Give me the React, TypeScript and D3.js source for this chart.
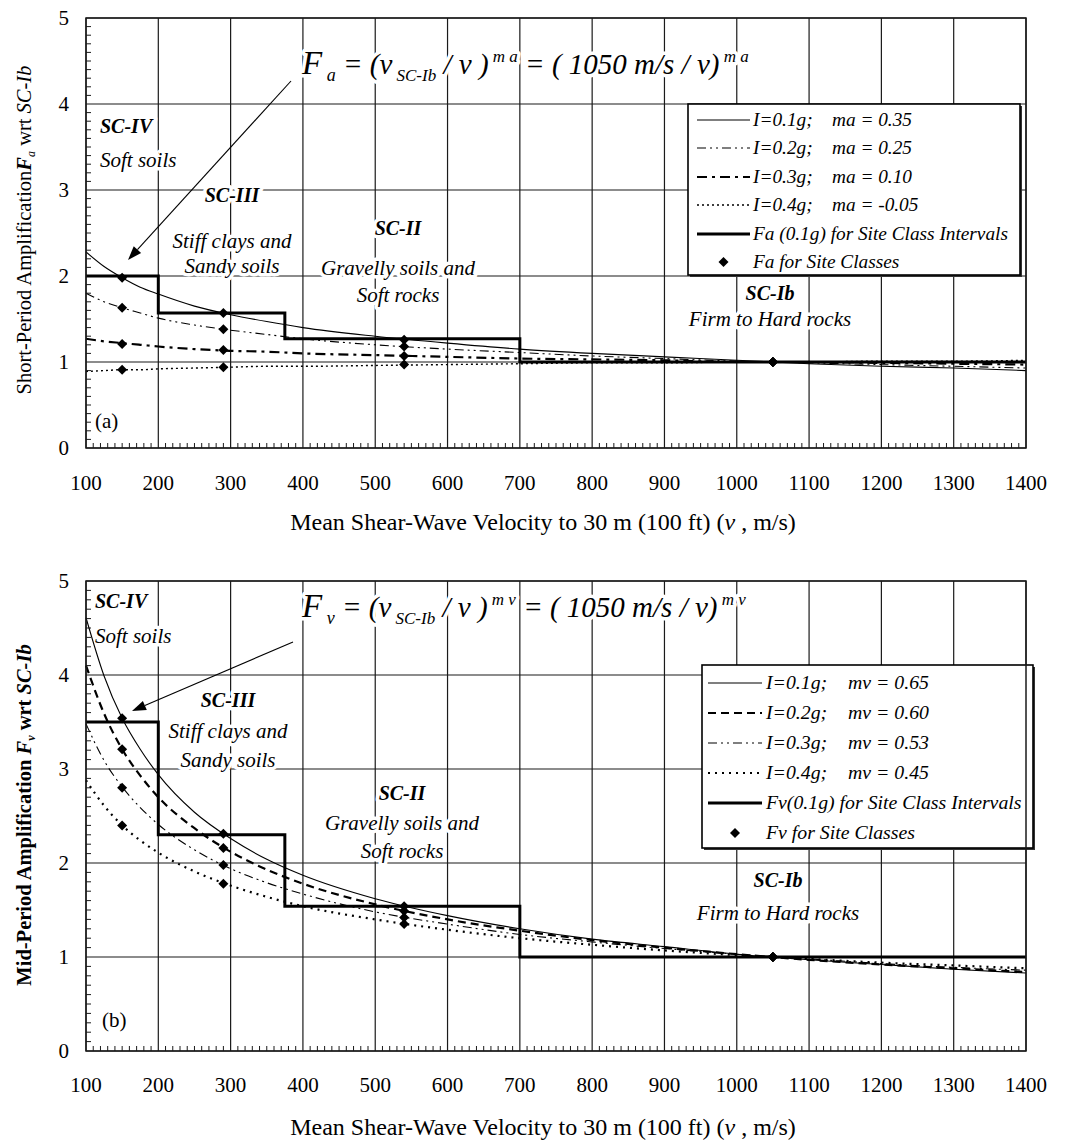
import React from 'react';
import * as d3 from 'd3';

// ---------- DATA ----------
const velocities = [100, 125, 150, 175, 200, 250, 300, 350, 400, 500, 600, 700, 800, 900, 1000, 1100, 1200, 1300, 1400];

// Panel (a) short-period amplification curves
const faI01 = [2.28, 2.11, 1.98, 1.87, 1.79, 1.65, 1.55, 1.47, 1.40, 1.30, 1.22, 1.15, 1.10, 1.06, 1.02, 0.98, 0.95, 0.93, 0.90];
const faI02 = [1.80, 1.70, 1.63, 1.57, 1.51, 1.43, 1.37, 1.32, 1.27, 1.20, 1.15, 1.11, 1.07, 1.04, 1.01, 0.99, 0.97, 0.95, 0.93];
const faI03 = [1.27, 1.24, 1.22, 1.20, 1.18, 1.15, 1.13, 1.12, 1.10, 1.08, 1.06, 1.04, 1.03, 1.02, 1.00, 1.00, 0.99, 0.98, 0.97];
const faI04 = [0.89, 0.90, 0.91, 0.91, 0.92, 0.93, 0.94, 0.95, 0.95, 0.96, 0.97, 0.98, 0.99, 0.99, 1.00, 1.00, 1.01, 1.01, 1.02];

// Panel (b) mid-period amplification curves
const fvI01 = [4.61, 3.99, 3.54, 3.21, 2.94, 2.54, 2.26, 2.04, 1.87, 1.62, 1.44, 1.30, 1.19, 1.11, 1.03, 0.97, 0.92, 0.87, 0.83];
const fvI02 = [4.10, 3.59, 3.21, 2.93, 2.70, 2.37, 2.12, 1.93, 1.78, 1.56, 1.40, 1.28, 1.18, 1.10, 1.03, 0.97, 0.92, 0.88, 0.84];
const fvI03 = [3.48, 3.09, 2.81, 2.59, 2.41, 2.14, 1.94, 1.79, 1.67, 1.48, 1.35, 1.24, 1.16, 1.09, 1.03, 0.98, 0.93, 0.89, 0.86];
const fvI04 = [2.88, 2.61, 2.40, 2.24, 2.11, 1.91, 1.76, 1.64, 1.54, 1.40, 1.29, 1.20, 1.13, 1.07, 1.02, 0.98, 0.94, 0.91, 0.88];

// Site-class points
const siteClassV = [150, 290, 540, 1050];
const faSite01 = [1.98, 1.57, 1.26, 1.0];
const faSite02 = [1.63, 1.38, 1.18, 1.0];
const faSite03 = [1.21, 1.14, 1.07, 1.0];
const faSite04 = [0.91, 0.94, 0.97, 1.0];
const fvSite01 = [3.54, 2.31, 1.54, 1.0];
const fvSite02 = [3.21, 2.16, 1.49, 1.0];
const fvSite03 = [2.80, 1.98, 1.42, 1.0];
const fvSite04 = [2.40, 1.78, 1.35, 1.0];

// Site-class interval steps
const stepEdges = [100, 200, 375, 700, 1400];
const faStep = [2.0, 1.57, 1.27, 1.0];
const fvStep = [3.5, 2.3, 1.54, 1.0];

// Ticks
const xTickValues = [100, 200, 300, 400, 500, 600, 700, 800, 900, 1000, 1100, 1200, 1300, 1400];
const yTickValues = [0, 1, 2, 3, 4, 5];

// Legend texts
const faLegendI = ['I=0.1g;', 'I=0.2g;', 'I=0.3g;', 'I=0.4g;'];
const faLegendM = ['ma = 0.35', 'ma = 0.25', 'ma = 0.10', 'ma = -0.05'];
const fvLegendI = ['I=0.1g;', 'I=0.2g;', 'I=0.3g;', 'I=0.4g;'];
const fvLegendM = ['mv = 0.65', 'mv = 0.60', 'mv = 0.53', 'mv = 0.45'];

// ---------- STYLE ----------
const FONT = '"Liberation Serif", "Times New Roman", serif';
const X0 = 86;
const X1 = 1026;

type LineStyle = { w: number; dash: string };

const faStyles: LineStyle[] = [
  { w: 1.1, dash: '' },
  { w: 1.1, dash: '9,4,2,4,2,4' },
  { w: 2.2, dash: '10,5,3,5' },
  { w: 1.4, dash: '2,3' },
];
const fvStyles: LineStyle[] = [
  { w: 1.1, dash: '' },
  { w: 2.2, dash: '8,5' },
  { w: 1.1, dash: '9,4,2,4,2,4' },
  { w: 2.2, dash: '2,5' },
];

const halo = {
  stroke: 'white',
  strokeWidth: 7,
  strokeLinejoin: 'round' as const,
  paintOrder: 'stroke' as const,
};

function Diamond({ x, y, s = 5 }: { x: number; y: number; s?: number }) {
  return <path d={`M${x},${y - s}L${x + s},${y}L${x},${y + s}L${x - s},${y}Z`} fill="black" />;
}

function Arrow({ x1, y1, x2, y2 }: { x1: number; y1: number; x2: number; y2: number }) {
  const a = Math.atan2(y2 - y1, x2 - x1);
  const L = 14;
  const W = 5;
  const bx = x2 - L * Math.cos(a);
  const by = y2 - L * Math.sin(a);
  const px = -Math.sin(a) * W;
  const py = Math.cos(a) * W;
  return (
    <g>
      <line x1={x1} y1={y1} x2={bx} y2={by} stroke="black" strokeWidth={1.1} />
      <path d={`M${x2},${y2}L${bx + px},${by + py}L${bx - px},${by - py}Z`} fill="black" />
    </g>
  );
}

type PanelProps = {
  yTop: number;
  yBottom: number;
  tickDy: number;
  curves: number[][];
  styles: LineStyle[];
  sites: number[][];
  step: number[];
  legend: {
    box: [number, number, number, number];
    rows: number[];
    lx: [number, number];
    tx: number;
    tx2: number;
    fs: number;
    iTexts: string[];
    mTexts: string[];
    stepLabel: string;
    siteLabel: string;
  };
  children?: React.ReactNode;
};

function Panel({ yTop, yBottom, tickDy, curves, styles, sites, step, legend, children }: PanelProps) {
  const x = d3.scaleLinear().domain([100, 1400]).range([X0, X1]);
  const y = d3.scaleLinear().domain([0, 5]).range([yBottom, yTop]);
  const line = d3
    .line<number>()
    .x((_, i) => x(velocities[i]))
    .y((d) => y(d))
    .curve(d3.curveMonotoneX);

  const stepPts: [number, number][] = [];
  step.forEach((v, i) => {
    stepPts.push([x(stepEdges[i]), y(v)]);
    stepPts.push([x(stepEdges[i + 1]), y(v)]);
  });
  const stepPath = d3.line()(stepPts) as string;

  const minorX = d3.range(110, 1400, 10).filter((v) => v % 100 !== 0);
  const minorY = d3.range(1, 50).filter((v) => v % 10 !== 0).map((v) => v / 10);

  const [bx, by, bw, bh] = legend.box;
  const fs = legend.fs;
  return (
    <g fontFamily={FONT}>
      {/* grid */}
      {xTickValues.map((v) => (
        <line key={'gx' + v} x1={x(v)} x2={x(v)} y1={yTop} y2={yBottom} stroke="#1a1a1a" strokeWidth={1.2} />
      ))}
      {yTickValues.map((v) => (
        <line key={'gy' + v} x1={X0} x2={X1} y1={y(v)} y2={y(v)} stroke="#1a1a1a" strokeWidth={1.2} />
      ))}
      {minorX.map((v) => (
        <line key={'mx' + v} x1={x(v)} x2={x(v)} y1={yBottom} y2={yBottom - 5} stroke="#1a1a1a" strokeWidth={1} />
      ))}
      {minorY.map((v) => (
        <line key={'my' + v} x1={X0} x2={X0 + 5} y1={y(v)} y2={y(v)} stroke="#1a1a1a" strokeWidth={1} />
      ))}
      {/* tick labels */}
      {xTickValues.map((v) => (
        <text key={'tx' + v} x={x(v)} y={yBottom + tickDy} textAnchor="middle" fontSize={21}>
          {v}
        </text>
      ))}
      {yTickValues.map((v) => (
        <text key={'ty' + v} x={69} y={y(v) + 7} textAnchor="end" fontSize={21}>
          {v}
        </text>
      ))}
      {children}
      {/* curves */}
      {curves.map((c, i) => (
        <path
          key={'c' + i}
          d={line(c) as string}
          fill="none"
          stroke="black"
          strokeWidth={styles[i].w}
          strokeDasharray={styles[i].dash}
        />
      ))}
      {/* step */}
      <path d={stepPath} fill="none" stroke="black" strokeWidth={3} />
      {/* site diamonds */}
      {sites.map((s, i) =>
        s.map((v, j) => <Diamond key={`d${i}-${j}`} x={x(siteClassV[j])} y={y(v)} />)
      )}
      {/* legend */}
      <rect x={bx + 2} y={by + 2} width={bw} height={bh} fill="#333" />
      <rect x={bx} y={by} width={bw} height={bh} fill="white" stroke="black" strokeWidth={1.6} />
      {legend.rows.map((ry, i) => {
        const [l1, l2] = legend.lx;
        let sample: React.ReactNode = null;
        let label: React.ReactNode = null;
        if (i < 4) {
          sample = (
            <line x1={l1} x2={l2} y1={ry} y2={ry} stroke="black" strokeWidth={styles[i].w} strokeDasharray={styles[i].dash} />
          );
          label = (
            <>
              <text x={legend.tx} y={ry + 6} fontSize={fs} fontStyle="italic">
                {legend.iTexts[i]}
              </text>
              <text x={legend.tx2} y={ry + 6} fontSize={fs} fontStyle="italic">
                {legend.mTexts[i]}
              </text>
            </>
          );
        } else if (i === 4) {
          sample = <line x1={l1} x2={l2} y1={ry} y2={ry} stroke="black" strokeWidth={3} />;
          label = (
            <text x={legend.tx} y={ry + 6} fontSize={fs} fontStyle="italic">
              {legend.stepLabel}
            </text>
          );
        } else {
          sample = <Diamond x={(l1 + l2) / 2} y={ry} s={5} />;
          label = (
            <text x={legend.tx} y={ry + 6} fontSize={fs} fontStyle="italic">
              {legend.siteLabel}
            </text>
          );
        }
        return (
          <g key={'lg' + i}>
            {sample}
            {label}
          </g>
        );
      })}
      {/* frame */}
      <rect x={X0} y={yTop} width={X1 - X0} height={yBottom - yTop} fill="none" stroke="#1a1a1a" strokeWidth={1.5} />
    </g>
  );
}

function RegionLabel({ x, y, title, lines, anchor = 'middle', gap = 26, first = 34 }: any) {
  return (
    <g fontFamily={FONT} fontSize={21}>
      <text x={x} y={y} textAnchor={anchor} fontWeight="bold" fontStyle="italic" fontSize={20} style={halo}>
        {title}
      </text>
      {lines.map((l: string, i: number) => (
        <text key={i} x={x} y={y + first + i * gap} textAnchor={anchor} fontStyle="italic" style={halo}>
          {l}
        </text>
      ))}
    </g>
  );
}

function Formula({ x, y, sub, sup }: { x: number; y: number; sub: string; sup: string }) {
  return (
    <text x={x} y={y} fontSize={29} fontStyle="italic" style={halo}>
      <tspan fontSize={33}>F</tspan>
      <tspan fontSize={18} dy={7}>{' ' + sub}</tspan>
      <tspan dy={-7}> = (v</tspan>
      <tspan fontSize={17} dy={7}> SC-Ib</tspan>
      <tspan dy={-7}> / v  )</tspan>
      <tspan fontSize={17} dy={-12}>{' ' + sup}</tspan>
      <tspan dy={12}> = ( 1050 m/s / v)</tspan>
      <tspan fontSize={17} dy={-12}>{' ' + sup}</tspan>
    </text>
  );
}

export default function App() {
  return (
    <svg
      width={1069}
      height={1140}
      style={{ position: 'absolute', left: 0, top: 0, background: 'white' }}
      fontFamily={FONT}
    >
      <rect width={1069} height={1140} fill="white" />
      {/* ---------- Panel (a) ---------- */}
      <Panel
        yTop={18}
        yBottom={448}
        tickDy={42}
        curves={[faI01, faI02, faI03, faI04]}
        styles={faStyles}
        sites={[faSite01, faSite02, faSite03, faSite04]}
        step={faStep}
        legend={{
          box: [688, 104, 332, 171],
          rows: [120, 148, 177, 205, 234, 262],
          lx: [697, 750],
          tx: 753,
          tx2: 832,
          fs: 19.3,
          iTexts: faLegendI,
          mTexts: faLegendM,
          stepLabel: 'Fa (0.1g) for Site Class Intervals',
          siteLabel: 'Fa for Site Classes',
        }}
      >
        <RegionLabel x={100} y={133} anchor="start" title="SC-IV" lines={['Soft soils']} first={34} />
        <RegionLabel x={232} y={202} title="SC-III" lines={['Stiff clays and', 'Sandy soils']} first={46} gap={25} />
        <RegionLabel x={398} y={235} title="SC-II" lines={['Gravelly soils and', 'Soft rocks']} first={40} gap={27} />
        <RegionLabel x={770} y={300} title="SC-Ib" lines={['Firm to Hard rocks']} first={26} />
        <text x={95} y={428} fontSize={21} style={halo}>(a)</text>
        <Formula x={302} y={74} sub="a" sup="m a" />
        <Arrow x1={291} y1={81} x2={128} y2={260} />
      </Panel>

      {/* axis titles (a) */}
      <text x={543} y={530} textAnchor="middle" fontSize={24}>
        Mean Shear-Wave Velocity to 30 m (100 ft) (<tspan fontStyle="italic">v</tspan> , m/s)
      </text>
      <text transform="translate(31,230) rotate(-90)" textAnchor="middle" fontSize={20.5}>
        Short-Period Amplification
        <tspan fontStyle="italic" fontWeight="bold">F</tspan>
        <tspan fontSize={12} dy={4} fontStyle="italic">a</tspan>
        <tspan dy={-4}> wrt </tspan>
        <tspan fontStyle="italic">SC-Ib</tspan>
      </text>

      {/* ---------- Panel (b) ---------- */}
      <Panel
        yTop={581}
        yBottom={1051}
        tickDy={41}
        curves={[fvI01, fvI02, fvI03, fvI04]}
        styles={fvStyles}
        sites={[fvSite01, fvSite02, fvSite03, fvSite04]}
        step={fvStep}
        legend={{
          box: [702, 665, 331, 183],
          rows: [683, 713, 743, 773, 803, 833],
          lx: [708, 762],
          tx: 766,
          tx2: 848,
          fs: 19.8,
          iTexts: fvLegendI,
          mTexts: fvLegendM,
          stepLabel: 'Fv(0.1g) for Site Class Intervals',
          siteLabel: 'Fv for Site Classes',
        }}
      >
        <RegionLabel x={95} y={608} anchor="start" title="SC-IV" lines={['Soft soils']} first={35} />
        <RegionLabel x={228} y={707} title="SC-III" lines={['Stiff clays and', 'Sandy soils']} first={31} gap={29} />
        <RegionLabel x={402} y={800} title="SC-II" lines={['Gravelly soils and', 'Soft rocks']} first={30} gap={28} />
        <RegionLabel x={778} y={887} title="SC-Ib" lines={['Firm to Hard rocks']} first={33} />
        <text x={102} y={1027} fontSize={21} style={halo}>(b)</text>
        <Formula x={302} y={617} sub="v" sup="m v" />
        <Arrow x1={293} y1={642} x2={132} y2={711} />
      </Panel>

      {/* axis titles (b) */}
      <text x={543} y={1135} textAnchor="middle" fontSize={24}>
        Mean Shear-Wave Velocity to 30 m (100 ft) (<tspan fontStyle="italic">v</tspan> , m/s)
      </text>
      <text transform="translate(31,815) rotate(-90)" textAnchor="middle" fontSize={20.5} fontWeight="bold">
        Mid-Period Amplification{' '}
        <tspan fontStyle="italic">F</tspan>
        <tspan fontSize={12} dy={4} fontStyle="italic">v</tspan>
        <tspan dy={-4}> wrt </tspan>
        <tspan fontStyle="italic">SC-Ib</tspan>
      </text>
    </svg>
  );
}
